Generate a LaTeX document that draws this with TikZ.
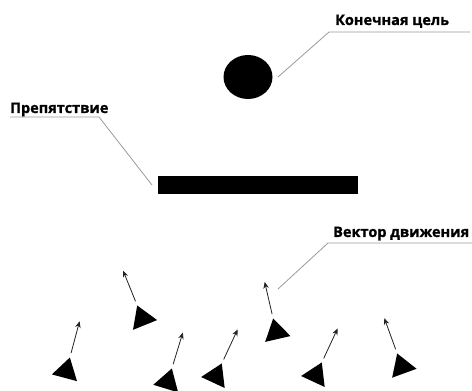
\documentclass[tikz,border=0pt]{standalone}
\usepackage{fontspec}
\setmainfont{Open Sans}[BoldFeatures={FakeBold=1.2}]
\usepackage{tikz}
\usetikzlibrary{arrows.meta,calc,shapes.geometric}
\definecolor{Leader}{HTML}{9A9A9A}
\definecolor{Ink}{HTML}{000000}
\definecolor{Motion}{HTML}{222222}
\tikzset{
    every node/.style={font=\fontsize{14.5}{17}\selectfont\bfseries},
    callout/.style={
        anchor=base west, inner sep=0pt, text=black
    },
    leader/.style={
        draw=Leader, line width=0.8pt
    },
    agent/.style={
        isosceles triangle, isosceles triangle stretches,
        fill=Ink, draw=none, inner sep=0pt,
        minimum width=26pt, minimum height=21pt,
        anchor=apex
    },
    motion/.style={
        -{Stealth[length=6.5pt,width=5.5pt]}, line width=0.8pt, color=Motion,
        shorten <=4pt
    },
}
\begin{document}
\begin{tikzpicture}[x=1pt,y=1pt]
    \useasboundingbox (0,0) rectangle (472,391);

    % Goal
    \node[ellipse, fill=Ink, inner sep=0pt, minimum width=49pt, minimum height=44pt] (goal) at (248,314) {};
    \node[callout] (goallbl) at (335,366) {Конечная цель};
    \coordinate (goaltip) at (278,314);
    \coordinate (goalknee) at (329,359);
    \coordinate (goalend) at (470,359);
    \draw[leader] (goaltip) -- (goalknee) -- (goalend);

    % Obstacle
    \node[rectangle, fill=Ink, inner sep=0pt, minimum width=200pt, minimum height=18pt] (wall) at (258,206) {};
    \node[callout] (walllbl) at (10,278) {Препятствие};
    \coordinate (wallstart) at (10,274);
    \coordinate (wallknee) at (99,274);
    \coordinate (walltip) at (152,206);
    \draw[leader] (wallstart) -- (wallknee) -- (walltip);

    % Agents with their motion vectors
    \foreach \n/\x/\y/\a in {1/70/34/75, 2/137/86/112, 3/172/23/73, 4/222/28/65,
                             5/273/73/103, 6/322/29/65, 7/397/38/110} {
        \node[agent, rotate=\a] (ag\n) at (\x,\y) {};
        \coordinate (vec\n) at ($(ag\n.apex)+(\a:37)$);
        \draw[motion] (ag\n.apex) -- (vec\n);
    }

    % Motion vector label
    \node[callout] (veclbl) at (333,154) {Вектор движения};
    \coordinate (vecend) at (472,148);
    \coordinate (vecknee) at (328,148);
    \coordinate (vectip) at (278,102);
    \draw[leader] (vecend) -- (vecknee) -- (vectip);
\end{tikzpicture}
\end{document}
